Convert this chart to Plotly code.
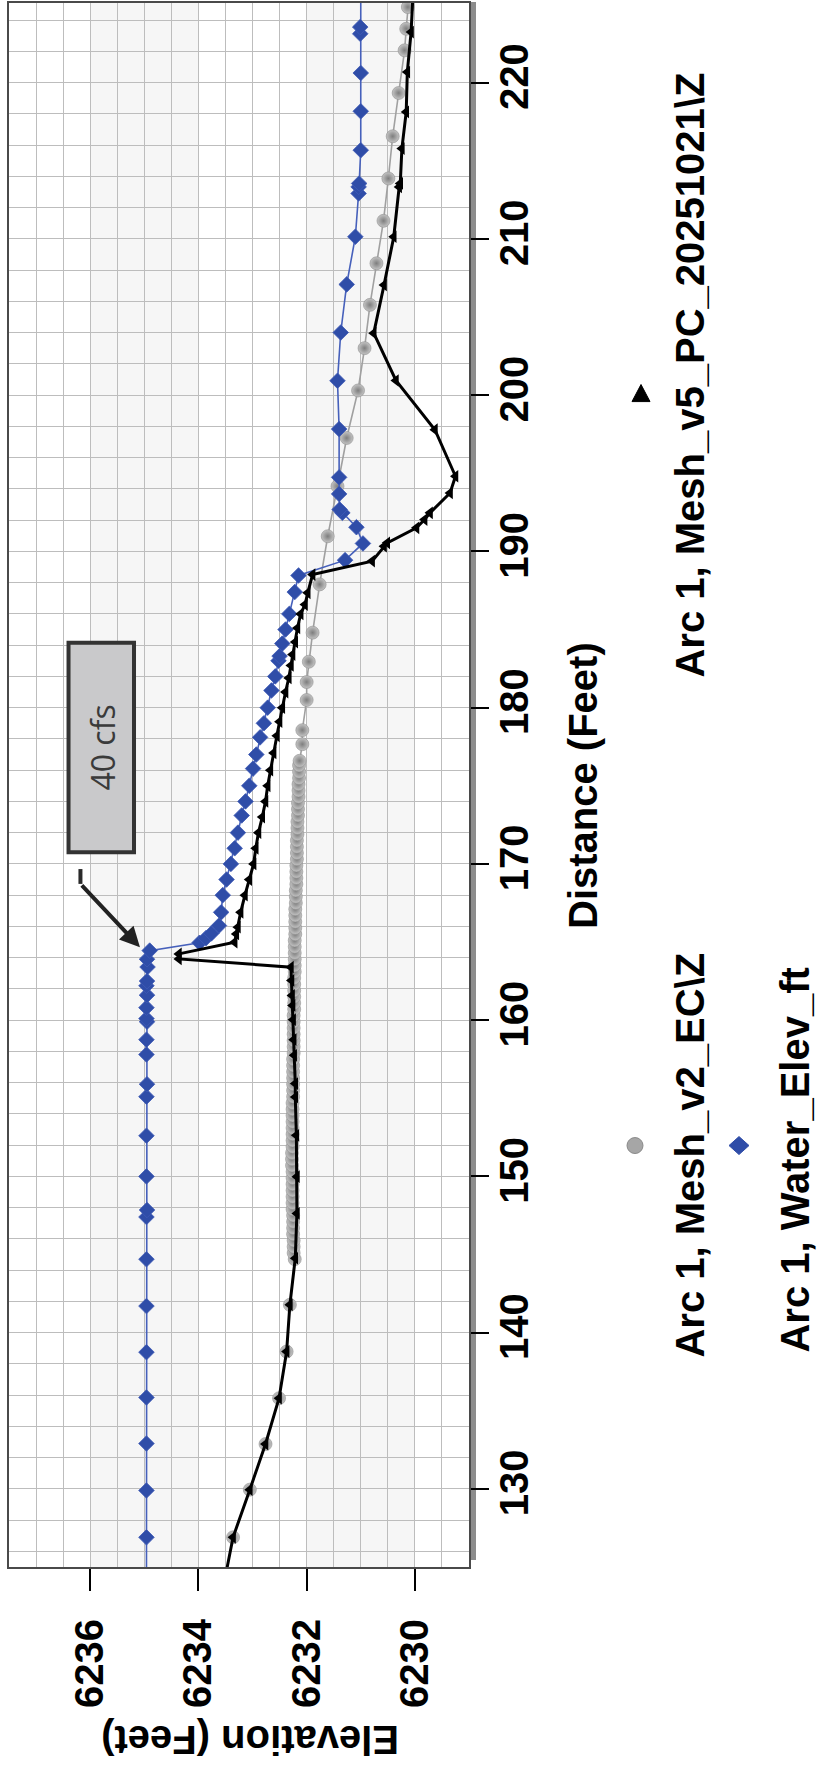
import plotly.graph_objects as go

# ---------------------------------------------------------------
# Profile data: distance along Arc 1 (ft) and elevation (ft)
# ---------------------------------------------------------------
mesh_v2_dist = [
    123.9, 126.9, 129.95, 132.87, 135.8, 138.79, 141.78, 144.7,
    145.1, 145.5, 145.9, 146.3, 146.7, 147.1, 147.5, 147.9, 148.3, 148.7,
    149.1, 149.5, 149.9, 150.3, 150.7, 151.1, 151.5, 151.9, 152.3, 152.7,
    153.1, 153.5, 153.9, 154.3, 154.7, 155.1, 155.5, 155.9, 156.3, 156.7,
    157.1, 157.5, 157.9, 158.3, 158.7, 159.1, 159.5, 159.9, 160.3, 160.7,
    161.1, 161.5, 161.9, 162.3, 162.7, 163.1, 163.5, 163.9, 164.3, 164.7,
    165.1, 165.5, 165.9, 166.3, 166.7, 167.1, 167.5, 167.9, 168.3, 168.7,
    169.1, 169.5, 169.9, 170.3, 170.7, 171.1, 171.5, 171.9, 172.3, 172.7,
    173.1, 173.5, 173.9, 174.3, 174.7, 175.1, 175.5, 175.9, 176.3, 176.6,
    177.66, 178.56, 180.49, 181.64, 182.94, 184.8, 187.89, 190.97, 194.17,
    197.26, 200.3, 203.01, 205.78, 208.44, 211.16, 213.87, 216.57, 219.34,
    222.07, 223.45, 224.84, 227.5,
]
mesh_v2_elev = [
    6233.53, 6233.36, 6233.05, 6232.76, 6232.51, 6232.37, 6232.31, 6232.22,
    6232.24, 6232.24, 6232.24, 6232.25, 6232.25, 6232.25, 6232.25, 6232.26, 6232.26, 6232.26,
    6232.26, 6232.26, 6232.26, 6232.26, 6232.27, 6232.27, 6232.27, 6232.26, 6232.26, 6232.26,
    6232.26, 6232.26, 6232.26, 6232.26, 6232.26, 6232.25, 6232.25, 6232.25, 6232.25, 6232.25,
    6232.25, 6232.25, 6232.24, 6232.24, 6232.24, 6232.24, 6232.24, 6232.24, 6232.24, 6232.23,
    6232.23, 6232.23, 6232.23, 6232.23, 6232.23, 6232.22, 6232.22, 6232.22, 6232.22, 6232.22,
    6232.22, 6232.21, 6232.21, 6232.21, 6232.21, 6232.21, 6232.20, 6232.20, 6232.20, 6232.19,
    6232.19, 6232.19, 6232.19, 6232.18, 6232.18, 6232.18, 6232.18, 6232.17, 6232.17, 6232.17,
    6232.16, 6232.16, 6232.16, 6232.15, 6232.15, 6232.15, 6232.14, 6232.14, 6232.14, 6232.13,
    6232.08, 6232.08, 6232.00, 6232.00, 6231.96, 6231.89, 6231.76, 6231.61, 6231.43,
    6231.26, 6231.05, 6230.93, 6230.83, 6230.71, 6230.58, 6230.49, 6230.41, 6230.30,
    6230.19, 6230.16, 6230.13, 6230.06,
]

water_dist = [
    123.9, 126.9, 129.9, 132.9, 135.85, 138.75, 141.7, 144.7, 147.4, 147.85,
    150.0, 152.6, 155.1, 155.9, 157.8, 158.75, 159.9, 160.1, 160.8, 161.6,
    162.2, 162.5, 163.4, 163.9, 164.45, 164.95, 165.25, 165.55, 166.05, 166.9,
    168.0, 169.0, 170.0, 171.0, 172.0, 173.1, 174.0, 175.0, 176.1, 177.0,
    178.1, 179.0, 180.0, 181.1, 182.0, 183.0, 183.3, 184.1, 185.0, 186.0,
    187.4, 188.46, 189.44, 190.51, 191.55, 192.47, 192.68, 193.68, 194.74, 197.83,
    200.92, 204.01, 207.09, 210.14, 212.91, 213.33, 213.55, 215.68, 218.17, 220.62,
    223.13, 223.56, 226.5,
]
water_elev = [
    6234.96, 6234.96, 6234.96, 6234.96, 6234.96, 6234.96, 6234.96, 6234.96, 6234.96, 6234.95,
    6234.96, 6234.96, 6234.96, 6234.95, 6234.96, 6234.96, 6234.95, 6234.96, 6234.96, 6234.95,
    6234.96, 6234.95, 6234.94, 6234.95, 6234.90, 6233.98, 6233.86, 6233.76, 6233.62, 6233.58,
    6233.55, 6233.48, 6233.40, 6233.33, 6233.27, 6233.20, 6233.13, 6233.06, 6232.99, 6232.93,
    6232.86, 6232.79, 6232.72, 6232.65, 6232.58, 6232.52, 6232.50, 6232.45, 6232.39, 6232.32,
    6232.22, 6232.15, 6231.29, 6230.96, 6231.08, 6231.34, 6231.39, 6231.40, 6231.40, 6231.40,
    6231.43, 6231.37, 6231.26, 6231.10, 6231.04, 6231.04, 6231.03, 6231.00, 6231.00, 6231.00,
    6231.01, 6231.01, 6231.00,
]

mesh_v5_dist = [
    123.9, 126.9, 129.95, 132.87, 135.8, 138.79, 141.78, 144.76, 147.63, 149.98,
    152.63, 155.08, 155.94, 157.75, 158.75, 160.03, 160.94, 161.58, 162.54, 163.39,
    163.92, 164.24, 164.99, 165.52, 165.95, 166.9, 168.0, 169.0, 170.0, 171.0,
    172.0, 173.0, 174.0, 175.0, 176.0, 177.1, 178.2, 179.1, 180.0, 181.0,
    181.9, 182.7, 183.4, 184.2, 185.1, 186.0, 186.6, 187.35, 188.52, 189.38,
    190.33, 190.55, 191.51, 192.04, 192.47, 193.74, 194.81, 197.79, 200.94, 203.97,
    207.05, 210.14, 213.33, 213.55, 215.78, 218.13, 220.68, 223.24, 226.0,
]
mesh_v5_elev = [
    6233.53, 6233.36, 6233.05, 6232.76, 6232.51, 6232.37, 6232.31, 6232.21, 6232.18, 6232.18,
    6232.19, 6232.21, 6232.21, 6232.23, 6232.24, 6232.25, 6232.26, 6232.27, 6232.28, 6232.29,
    6234.36, 6234.36, 6233.33, 6233.30, 6233.27, 6233.22, 6233.14, 6233.06, 6232.98, 6232.94,
    6232.89, 6232.82, 6232.76, 6232.72, 6232.67, 6232.61, 6232.55, 6232.50, 6232.45, 6232.39,
    6232.33, 6232.29, 6232.26, 6232.21, 6232.17, 6232.11, 6232.03, 6231.98, 6231.89, 6230.79,
    6230.57, 6230.51, 6229.97, 6229.82, 6229.72, 6229.35, 6229.25, 6229.63, 6230.35, 6230.76,
    6230.57, 6230.39, 6230.29, 6230.27, 6230.24, 6230.16, 6230.14, 6230.07, 6230.03,
]

series_names = [
    "Arc 1, Mesh_v2_EC\\Z",
    "Arc 1, Water_Elev_ft",
    "Arc 1, Mesh_v5_PC_20251021\\Z",
]

elev_ticks = [6230, 6232, 6234, 6236]
dist_ticks = [130, 140, 150, 160, 170, 180, 190, 200, 210, 220]

# ---------------------------------------------------------------
# Page geometry (chart is laid out turned on its side)
# ---------------------------------------------------------------
W, H = 818, 1769
L, R, T, B = 9, 349, 1, 202
PW = W - L - R
PH = H - T - B


def px(x):
    return (x - L) / PW


def py(y):
    return (H - B - y) / PH


BOLD = dict(family="Liberation Sans, Arial, sans-serif", size=40, color="#000000", weight="bold")

fig = go.Figure()

fig.add_trace(go.Scatter(
    x=mesh_v2_elev, y=mesh_v2_dist, mode="lines+markers", name=series_names[0],
    line=dict(color="#a0a0a0", width=1.6),
    marker=dict(symbol="circle", size=13, color="#c4c4c4",
                gradient=dict(type="radial", color="#7e7e7e"),
                line=dict(color="#8e8e8e", width=0.6)),
))
fig.add_trace(go.Scatter(
    x=water_elev, y=water_dist, mode="lines+markers", name=series_names[1],
    line=dict(color="#4660bb", width=1.6),
    marker=dict(symbol="diamond", size=12, color="#2f4da8",
                line=dict(color="#3f5ab6", width=0.8)),
))
fig.add_trace(go.Scatter(
    x=mesh_v5_elev, y=mesh_v5_dist, mode="lines+markers", name=series_names[2],
    line=dict(color="#000000", width=3),
    marker=dict(symbol="triangle-left", size=11, color="#000000"),
))

shapes = []
# alternating bands between major elevation ticks
for lo, hi in [(6234, 6236), (6230, 6232)]:
    shapes.append(dict(type="rect", xref="x", yref="paper", x0=hi, x1=lo, y0=0, y1=1,
                       fillcolor="#f6f6f6", line=dict(width=0), layer="below"))
# drop shadow along the right edge of the plot frame
shapes.append(dict(type="rect", xref="paper", yref="paper",
                   x0=1.0, x1=px(L + PW + 7), y0=py(1560), y1=py(0),
                   fillcolor="#8c8c8c", line=dict(width=0), layer="below"))

# "40 cfs" call-out box and the bent leader
shapes.append(dict(type="rect", xref="x", yref="y", x0=6236.40, x1=6235.19, y0=170.74, y1=184.16,
                   fillcolor="#c9c9cb", line=dict(color="#333333", width=4), layer="above"))
shapes.append(dict(type="line", xref="x", yref="y", x0=6236.18, x1=6236.18, y0=169.67, y1=168.72,
                   line=dict(color="#2a2a2a", width=4), layer="above"))


# legend symbols
def diamond_path(cx, cy, rx, ry):
    return (f"M {px(cx)},{py(cy - ry)} L {px(cx + rx)},{py(cy)} "
            f"L {px(cx)},{py(cy + ry)} L {px(cx - rx)},{py(cy)} Z")


def triangle_path(cx, cy, r):
    return (f"M {px(cx)},{py(cy - r)} L {px(cx + r)},{py(cy + r * 0.9)} "
            f"L {px(cx - r)},{py(cy + r * 0.9)} Z")


shapes.append(dict(type="circle", xref="paper", yref="paper",
                   x0=px(627), x1=px(643), y0=py(1153), y1=py(1137),
                   fillcolor="#a6a6a6", line=dict(color="#8a8a8a", width=1)))
shapes.append(dict(type="path", xref="paper", yref="paper", path=diamond_path(739, 1145, 10, 9),
                   fillcolor="#2f4da8", line=dict(color="#2f4da8", width=1)))
shapes.append(dict(type="path", xref="paper", yref="paper", path=triangle_path(641, 392, 9),
                   fillcolor="#000000", line=dict(color="#000000", width=1)))


def label(text, x, y, angle, font):
    return dict(text=text, xref="paper", yref="paper", x=px(x), y=py(y),
                xanchor="center", yanchor="middle", showarrow=False,
                textangle=angle, font=font)


annotations = [
    dict(text="40 cfs", xref="x", yref="y", x=6235.78, y=177.45, showarrow=False,
         xanchor="center", yanchor="middle",
         textangle=-90, font=dict(family="Open Sans, sans-serif", size=32, color="#3a3a3a")),
    dict(text="", xref="x", yref="y", x=6235.08, y=164.67, ax=6236.18, ay=168.72,
         axref="x", ayref="y", showarrow=True, arrowhead=2, arrowsize=1.0, arrowwidth=4,
         arrowcolor="#222222"),
    label("Elevation (Feet)", 250, 1740, 180, BOLD),
    label("Distance (Feet)", 583, 785, -90, BOLD),
    label(series_names[2], 690, 374, -90, BOLD),
    label(series_names[0], 690, 1155, -90, BOLD),
    label(series_names[1], 795, 1160, -90, BOLD),
]

fig.update_layout(
    width=W, height=H,
    margin=dict(l=L, r=R, t=T, b=B, pad=0),
    paper_bgcolor="#ffffff", plot_bgcolor="#ffffff",
    showlegend=False,
    shapes=shapes, annotations=annotations,
)

fig.update_xaxes(
    range=[6237.5, 6229.0], tickvals=elev_ticks, ticktext=[str(v) for v in elev_ticks],
    tickangle=-90, tickfont=BOLD, ticks="outside", ticklen=22, tickwidth=1.5, tickcolor="#000000",
    ticklabelstandoff=12,
    showgrid=True, gridcolor="#bdbdbd", gridwidth=1.3,
    minor=dict(dtick=0.5, tick0=6230, showgrid=True, gridcolor="#bdbdbd", gridwidth=1.3, ticks=""),
    showline=True, linecolor="#4a4a4a", linewidth=2, mirror=True, zeroline=False,
)
fig.update_yaxes(
    range=[125, 225.1], side="right", tickvals=dist_ticks, ticktext=[str(v) for v in dist_ticks],
    tickangle=-90, tickfont=BOLD, ticks="outside", ticklen=18, tickwidth=1.5, tickcolor="#000000",
    ticklabelstandoff=-9,
    showgrid=True, gridcolor="#bdbdbd", gridwidth=1.3,
    minor=dict(dtick=2, tick0=130, showgrid=True, gridcolor="#bdbdbd", gridwidth=1.3, ticks=""),
    showline=True, linecolor="#4a4a4a", linewidth=2, mirror=True, zeroline=False,
)

fig.write_html("out.html")
